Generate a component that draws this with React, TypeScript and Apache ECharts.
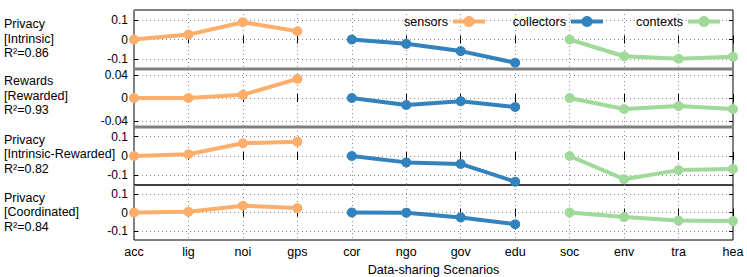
import React, { useEffect, useRef } from 'react';
import * as echarts from 'echarts';

const categories = ['acc', 'lig', 'noi', 'gps', 'cor', 'ngo', 'gov', 'edu', 'soc', 'env', 'tra', 'hea'];
const seriesNames = ['sensors', 'collectors', 'contexts'];
const seriesColors = ['#fdae6b', '#3182bd', '#a1d99b'];
const groupRanges = [[0, 4], [4, 8], [8, 12]];

const intrinsic = [0, 0.025, 0.088, 0.042, 0, -0.022, -0.059, -0.118, 0, -0.085, -0.098, -0.088];
const rewarded = [0, 0.0, 0.0055, 0.033, 0, -0.012, -0.0055, -0.0155, 0, -0.019, -0.014, -0.019];
const intrinsicRewarded = [0, 0.009, 0.066, 0.074, 0, -0.033, -0.041, -0.133, 0, -0.12, -0.073, -0.067];
const coordinated = [0, 0.004, 0.037, 0.024, 0, -0.001, -0.027, -0.064, 0, -0.025, -0.044, -0.047];

const panelValues = [intrinsic, rewarded, intrinsicRewarded, coordinated];
const panelLabels = [
  ['Privacy', '[Intrinsic]', '0.86'],
  ['Rewards', '[Rewarded]', '0.93'],
  ['Privacy', '[Intrinsic-Rewarded]', '0.82'],
  ['Privacy', '[Coordinated]', '0.84'],
];
const yLimits = [0.15, 0.05, 0.15, 0.15];
const yTickValues = [
  [-0.1, 0, 0.1],
  [-0.04, 0, 0.04],
  [-0.1, 0, 0.1],
  [-0.1, 0, 0.1],
];
const xTitle = 'Data-sharing Scenarios';

const FONT = '"Liberation Sans", Arial, Helvetica, sans-serif';
const GRID_LEFT = 134;
const GRID_RIGHT_X = 733;
const panelTops = [10, 69, 127, 185];
const panelHeights = [59, 58, 58, 58];
const labelCenters = [38.5, 95.5, 154.2, 212];
const LABEL_FS = 12.5;
const LINE_H = 14.5;

export default function App() {
  const ref = useRef<HTMLDivElement>(null);

  useEffect(() => {
    if (!ref.current) return;
    const chart = echarts.init(ref.current, undefined, { renderer: 'svg' });

    const grids = panelTops.map((top, i) => ({
      left: GRID_LEFT,
      width: GRID_RIGHT_X - GRID_LEFT,
      top,
      height: panelHeights[i],
      show: true,
      borderColor: '#000',
      borderWidth: 1,
      backgroundColor: 'transparent',
    }));

    const xAxes: any[] = [];
    const yAxes: any[] = [];
    const series: any[] = [];

    panelValues.forEach((vals, i) => {
      const isLast = i === panelValues.length - 1;
      xAxes.push({
        type: 'category',
        gridIndex: i,
        data: categories,
        boundaryGap: false,
        position: 'bottom',
        axisLine: { show: false },
        axisTick: { show: true, inside: true, length: 4, interval: 0, lineStyle: { color: '#000' } },
        axisLabel: {
          show: isLast,
          interval: 0,
          margin: 5,
          fontSize: 12.5,
          color: '#000',
          fontFamily: FONT,
        },
        splitLine: { show: true, interval: 0, lineStyle: { color: '#8a8a8a', type: [1, 3], width: 1 } },
        name: isLast ? xTitle : '',
        nameLocation: 'middle',
        nameGap: 23,
        nameTextStyle: { fontSize: 12.6, color: '#000', fontFamily: FONT },
      });
      xAxes.push({
        type: 'category',
        gridIndex: i,
        data: categories,
        boundaryGap: false,
        position: 'top',
        axisLine: { show: false },
        axisTick: { show: true, inside: true, length: 4, interval: 0, lineStyle: { color: '#000' } },
        axisLabel: { show: false },
        splitLine: { show: false },
      });
      const lim = yLimits[i];
      const ticks = yTickValues[i];
      yAxes.push({
        type: 'value',
        gridIndex: i,
        position: 'left',
        min: -lim,
        max: lim,
        axisLine: { show: false },
        axisTick: { show: true, inside: true, length: 4, customValues: ticks, lineStyle: { color: '#000' } },
        axisLabel: {
          customValues: ticks,
          margin: 6,
          fontSize: 12,
          color: '#000',
          fontFamily: FONT,
        },
        splitLine: { show: true, lineStyle: { color: '#8a8a8a', type: [1, 3], width: 1 } },
      });
      yAxes.push({
        type: 'value',
        gridIndex: i,
        position: 'right',
        min: -lim,
        max: lim,
        axisLine: { show: false },
        axisTick: { show: true, inside: true, length: 4, customValues: ticks, lineStyle: { color: '#000' } },
        axisLabel: { show: false },
        splitLine: { show: false },
      });

      groupRanges.forEach(([a, b], g) => {
        series.push({
          type: 'line',
          name: seriesNames[g],
          xAxisIndex: i * 2,
          yAxisIndex: i * 2,
          data: vals.map((v, k) => (k >= a && k < b ? v : '-')),
          symbol: 'circle',
          symbolSize: 10,
          showSymbol: true,
          connectNulls: false,
          color: seriesColors[g],
          lineStyle: { width: 4, color: seriesColors[g] },
          itemStyle: { color: seriesColors[g] },
          z: 5,
        });
      });
    });

    const legendRights = [260, 142, 25];
    const legends = seriesNames.map((name, g) => ({
      data: [name],
      right: legendRights[g],
      top: 15,
      padding: 0,
      align: 'right',
      itemWidth: 32,
      itemHeight: 14,
      itemGap: 5,
      lineStyle: { width: 4 },
      textStyle: { fontSize: 12.6, color: '#000', fontFamily: FONT },
    }));

    const graphics: any[] = [];
    panelLabels.forEach(([l1, l2, r2], i) => {
      graphics.push({
        type: 'text',
        x: 4,
        y: labelCenters[i],
        z: 10,
        style: {
          text: `${l1}\n${l2}\nR\u00b2=${r2}`,
          fontSize: LABEL_FS,
          lineHeight: LINE_H,
          fontFamily: FONT,
          fill: '#000',
          align: 'left',
          verticalAlign: 'middle',
        },
      });
    });
    [69, 127].forEach((y) => {
      graphics.push({
        type: 'line',
        z: 100,
        shape: { x1: GRID_LEFT, y1: y, x2: GRID_RIGHT_X, y2: y },
        style: { stroke: '#808080', lineWidth: 3 },
      });
    });

    chart.setOption({
      animation: false,
      backgroundColor: '#fff',
      textStyle: { fontFamily: FONT },
      grid: grids,
      xAxis: xAxes,
      yAxis: yAxes,
      legend: legends,
      series,
      graphic: graphics,
    });

    return () => chart.dispose();
  }, []);

  return (
    <div
      ref={ref}
      style={{ position: 'fixed', left: 0, top: 0, width: 747, height: 277 }}
    />
  );
}
